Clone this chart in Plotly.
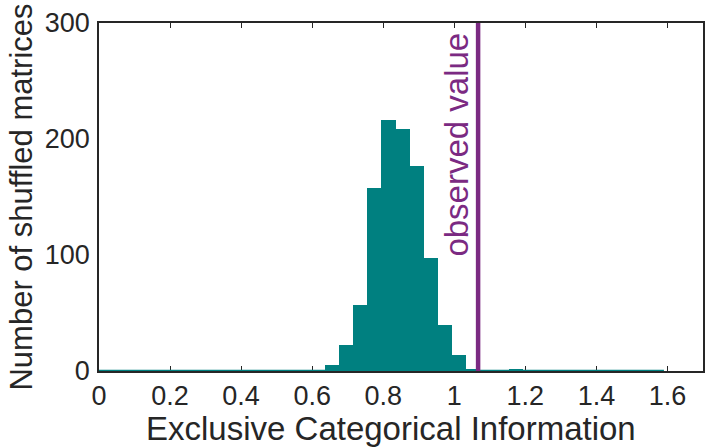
import numpy as np
import plotly.graph_objects as go

# Histogram: 40 bins spanning 0 .. 1.59
bin_start = 0.0
bin_end = 1.59
n_bins = 40
counts = [0, 0, 0, 0, 0, 0, 0, 0, 0, 0,
          0, 0, 0, 0, 0, 0, 5, 22, 57, 158,
          216, 209, 177, 97, 40, 14, 2, 0, 0, 1,
          0, 0, 0, 0, 0, 0, 0, 0, 0, 0]
observed_value = 1.067

x_ticks = [0, 0.2, 0.4, 0.6, 0.8, 1, 1.2, 1.4, 1.6]
x_ticklabels = ["0", "0.2", "0.4", "0.6", "0.8", "1", "1.2", "1.4", "1.6"]
y_ticks = [0, 100, 200, 300]

teal = "#008080"
purple = "#7B2A82"
ink = "#262626"
font_family = "Liberation Sans, Arial, Helvetica, sans-serif"

edges = np.linspace(bin_start, bin_end, n_bins + 1)
width = edges[1] - edges[0]
centers = (edges[:-1] + edges[1:]) / 2

fig = go.Figure()
fig.add_trace(go.Bar(x=centers, y=counts, width=width,
                     marker=dict(color=teal, line=dict(width=0)),
                     showlegend=False, hoverinfo="x+y"))
# flat baseline of the histogram (zero-count bins)
fig.add_trace(go.Scatter(x=[edges[0], edges[-1]], y=[0, 0], mode="lines",
                         line=dict(color=teal, width=2.5),
                         showlegend=False, hoverinfo="skip"))
# observed value line
fig.add_trace(go.Scatter(x=[observed_value, observed_value], y=[0, 300], mode="lines",
                         line=dict(color=purple, width=4.5),
                         showlegend=False, hoverinfo="skip"))

fig.add_annotation(x=observed_value, y=300, xref="x", yref="y",
                   text="observed value", textangle=-90, showarrow=False,
                   xanchor="right", yanchor="top", xshift=-2, yshift=-8,
                   font=dict(family=font_family, size=33, color=purple))

# x-axis title (slightly left of the plot centre, as in the original)
fig.add_annotation(x=0.4835, y=-0.164, xref="paper", yref="paper",
                   text="Exclusive Categorical Information", showarrow=False,
                   xanchor="center", yanchor="middle",
                   font=dict(family=font_family, size=33, color=ink))

fig.update_layout(
    width=706, height=447,
    margin=dict(l=99, r=1, t=23, b=76),
    paper_bgcolor="white", plot_bgcolor="white",
    bargap=0,
    font=dict(family=font_family, color=ink),
    xaxis=dict(range=[0, 1.7], tickmode="array", tickvals=x_ticks, ticktext=x_ticklabels,
               ticks="inside", ticklen=5, tickwidth=1.2, tickcolor=ink,
               showline=True, linecolor=ink, linewidth=1.5, mirror="ticks",
               showgrid=False, zeroline=False, layer="below traces",
               tickfont=dict(size=27, color=ink)),
    yaxis=dict(range=[0, 300], tickmode="array", tickvals=y_ticks,
               ticks="", showline=True, linecolor=ink, linewidth=1.5, mirror=True,
               showgrid=False, zeroline=False, layer="below traces",
               tickfont=dict(size=27, color=ink), ticklabelstandoff=2,
               title=dict(text="Number of shuffled matrices", standoff=3,
                          font=dict(size=31, color=ink))),
)

fig.write_html("out.html")
